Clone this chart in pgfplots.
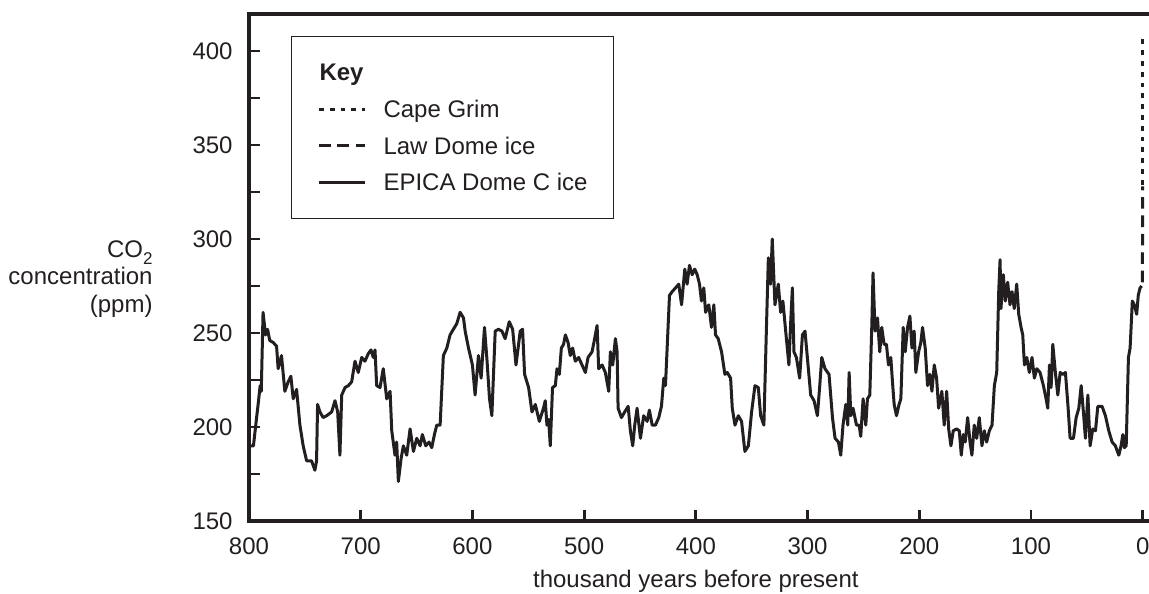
\documentclass[12pt,border=0pt]{standalone}
\usepackage{fontspec}
\setmainfont{Liberation Sans}
\usepackage{pgfplots}
\pgfplotsset{compat=1.18}
\definecolor{ink}{RGB}{35,31,32}

\begin{document}
\begin{tikzpicture}
\begin{axis}[
    scale only axis,
    width=450pt, height=253.5pt,
    x dir=reverse,
    xmin=-5.6, xmax=800,
    ymin=150, ymax=419.7,
    clip=false,
    axis line style={draw=none},
    xtick={0,100,...,800},
    ytick={150,200,...,400},
    minor ytick={175,225,...,375},
    xtick pos=lower, xticklabel pos=lower,
    ytick pos=left, yticklabel pos=left,
    tick align=inside,
    major tick length=5.5pt, minor tick length=5.5pt,
    tick style={line width=1.4pt, draw=ink},
    /pgf/number format/assume math mode=true,
    xticklabel style={anchor=north, inner sep=0pt, yshift=-8pt, text=ink},
    yticklabel style={anchor=east, inner sep=0pt, xshift=-8pt, text=ink},
    legend cell align=left,
    legend style={at={(axis description cs:0.0467,0.957)}, anchor=north west,
        draw=ink, line width=0.5pt, fill=white,
        inner xsep=13pt, inner ysep=12.3pt, row sep=6.95pt, column sep=8.5pt,
        nodes={inner sep=0pt, text height=10pt, text depth=1.4pt, text=ink}},
    legend image code/.code={\draw[#1] (0pt,0pt) -- (23pt,0pt);},
]
\addlegendimage{legend image code/.code={\node[anchor=west, font=\bfseries] at (0pt,0pt) {Key};}}
\addlegendentry{}

\addplot[ink, line width=1.5pt, dash pattern=on 2.4pt off 3pt] coordinates {(0,329) (0,409)};
\addlegendentry{Cape Grim}

\addplot[ink, line width=1.5pt, dash pattern=on 5.8pt off 3.4pt] coordinates {(0.3,277) (0,328)};
\addlegendentry{Law Dome ice}

\addplot[ink, line width=1.5pt, line join=round] coordinates {
(800,190) (796,190) (793,206) (792,211) (790,222) (789,219) (787.4,261) (785.2,249)
(783.4,252) (781.4,246) (778.4,245) (775.3,243) (773.9,231) (770.9,238) (767.9,219)
(764.9,224) (762.5,227) (760.4,215) (757.4,220) (754.4,201) (751.5,190) (748.4,182)
(744,182) (741,177) (739.5,182) (738.6,212) (736.5,208) (733.6,205) (730.5,206)
(726,208) (723,214) (720.6,208) (718.6,185) (717,217) (714,221) (711.1,222)
(708.1,224) (705.1,235) (702.2,229) (699.1,237) (696.2,235) (693.2,239) (690.8,241)
(688.7,237) (687.2,241) (685.7,222) (682.7,221) (679.8,231) (676.7,215) (673.7,219)
(672.2,198) (669.3,185) (667.8,192) (666.3,171) (663.9,183) (661.8,190) (658.8,185)
(655.8,199) (652.8,187) (649.8,194) (646.8,190) (644.8,196) (641.8,190) (638.8,192)
(636.4,189) (634,196) (631.9,201) (628.9,201) (626,238) (622.9,242) (620,249)
(617,252) (614,255) (611,261) (608,258) (606.5,251) (603.5,242) (600,233)
(597.6,217) (594.6,238) (592.2,226) (589.2,253) (587,236) (584.7,215) (582.6,206)
(579.6,251) (576.7,252) (573.6,251) (570.7,247) (567,256) (564,252) (561,233)
(557.2,251) (555.1,252) (553.3,228) (549.7,221) (546.7,208) (543.7,212) (540.1,203)
(536.4,210) (534.8,214) (533.3,201) (531.8,204) (530.3,190) (528.3,221) (525.8,222)
(524.3,231) (522.2,228) (520.4,242) (518.4,244) (516.8,249) (514.4,245) (512.4,238)
(510.3,242) (507.9,235) (504.9,237) (501.9,233) (498.9,229) (496.5,237) (492.9,240)
(490.6,247) (488.4,254) (487,231) (483.9,233) (481,229) (478,219) (476.5,240)
(474.4,233) (472,247) (470.5,240) (469.6,210) (466.6,205) (463.7,208) (460.6,211)
(458.6,198) (456.5,190) (454.7,201) (452.6,210) (449.6,194) (446.7,206) (443.6,203)
(441.6,209) (439.1,201) (436.2,201) (433.2,205) (430.8,211) (428.7,226) (427.2,222)
(423.6,270) (421.2,272) (418.2,274) (415.3,276) (412.8,265) (409.9,284) (407.8,276)
(405.7,286) (403.3,281) (401,284) (398.8,281) (396.7,276) (395,267) (392.9,274)
(391.3,261) (388.4,265) (386,253) (383.9,265) (382.4,249) (380,247) (377,240)
(374,228) (371.9,229) (368.9,226) (367.4,210) (365,201) (362,206) (359.1,203)
(356.1,187) (353,190) (350.1,208) (347.1,222) (344.1,221) (342,206) (339.1,201)
(336.9,251) (335.1,290) (333.1,276) (331.6,300) (329.2,265) (326.2,276) (324.1,261)
(322.1,267) (319.6,251) (316.7,233) (315.1,256) (313.6,274) (312.2,240) (310,237)
(307.1,226) (304.6,249) (302.3,251) (300.2,237) (297.2,217) (294.2,214) (291.2,206)
(289.1,222) (287.3,237) (284.4,231) (280.8,228) (277.7,205) (275.4,194) (272.4,192)
(270.3,185) (268.3,201) (265.8,212) (264,201) (262.8,229) (261.3,206) (259.3,210)
(256.2,201) (253.9,201) (252.4,195) (250.3,215) (247.9,201) (246.4,215) (244.3,217)
(242.5,254) (241.4,282) (239.6,251) (237.4,258) (235.4,240) (233.6,253) (231.5,244)
(229.4,244) (227.6,233) (225.5,237) (224,224) (222.5,212) (220.4,206) (218.1,212)
(216.5,215) (214.4,253) (212.6,240) (210.5,253) (208.4,259) (206.6,242) (204.6,251)
(203.1,229) (200.6,240) (198.6,245) (197.1,253) (194.7,242) (192.6,222) (190.5,228)
(188.7,219) (186.6,233) (184.5,226) (182.7,210) (179.8,219) (177.7,201) (175.5,219)
(173.7,199) (171.7,190) (169.6,198) (166.6,199) (164.2,198) (162.4,185) (160.6,196)
(158.9,192) (156.7,205) (154.6,192) (152.9,185) (150.8,201) (148.6,194) (146.3,205)
(143.9,190) (141.8,198) (139.7,192) (137.3,198) (134.9,201) (132.8,222) (130.7,229)
(128.9,272) (127.7,289) (126.9,263) (124.8,281) (123,267) (120.9,277) (118.8,265)
(117,272) (115,263) (112.8,276) (111,260) (108.9,253) (107.4,249) (105.9,233)
(103.8,237) (101.5,229) (99.1,237) (97,226) (94.8,231) (91.9,229) (88.9,222)
(86.5,215) (85,210) (83.5,233) (82,221) (80.5,244) (78.2,229) (76,217) (73.9,229)
(71.5,228) (69.2,229) (67,212) (65,194) (62,194) (59.6,205) (57.2,210) (55.1,222)
(53.1,208) (51.3,194) (49.1,217) (47.1,190) (44.7,199) (42.3,198) (40.2,211)
(36.4,211) (33.4,206) (30.4,198) (27.4,192) (24.5,190) (21.4,185) (19.4,190)
(17.8,196) (16.4,189) (14.8,190) (12.8,237) (11.3,242) (9.3,267) (7.5,265)
(5.4,260) (4,270) (2.4,274) (0.9,275)};
\addlegendentry{EPICA Dome C ice}

\draw[ink, line width=1.6pt] (axis cs:-5.6,419.7) -- (axis cs:800,419.7)
    -- (axis cs:800,150) -- (axis cs:-5.6,150);

\node[align=right, anchor=east, inner sep=0pt, text=ink, xshift=-48pt,
    font=\fontsize{12}{13.8}\selectfont] at (axis cs:800,278.7)
    {CO\raisebox{-3.5pt}{\fontsize{8.5}{8.5}\selectfont 2}\\concentration\\(ppm)};
\node[anchor=north, inner sep=0pt, text=ink, yshift=-24.5pt] at (axis cs:400,150)
    {thousand years before present};

\coordinate (bl) at (axis cs:800,150);
\coordinate (tr) at (axis cs:-5.6,419.7);
\end{axis}
\pgfresetboundingbox
\path[use as bounding box] ([xshift=-124.5pt,yshift=-36.5pt]bl) rectangle ([yshift=7pt]tr);
\end{tikzpicture}
\end{document}
